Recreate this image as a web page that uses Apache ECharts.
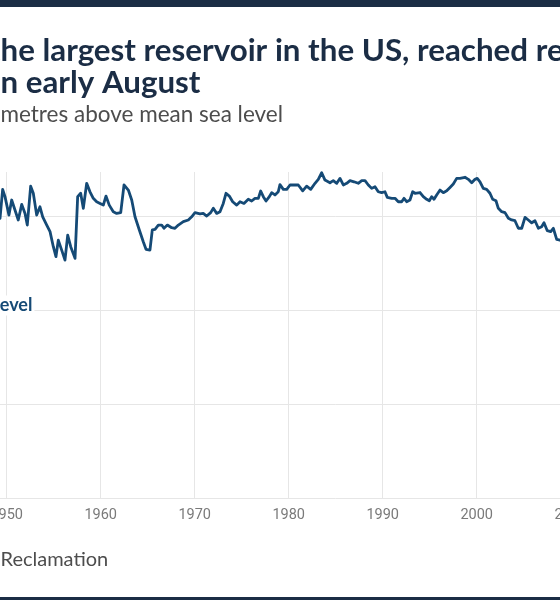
<!DOCTYPE html>
<html>
<head>
<meta charset="utf-8">
<title>Lake Mead water level</title>
<script src="https://cdn.jsdelivr.net/npm/echarts@6/dist/echarts.min.js"></script>
<style>
  html, body { margin: 0; padding: 0; width: 560px; height: 600px; overflow: hidden; background: #fff; }
  body { position: relative; }
  /* the chart is wider than the window, pushed left so only the middle shows */
  #main { position: absolute; left: -200px; top: 0; width: 980px; height: 600px; }
</style>
</head>
<body>
<div id="main"></div>
<script>
// water level of Lake Mead, metres above mean sea level (ends estimated)
var years = [
  1946.0, 1946.6, 1947.0, 1947.6, 1948.0, 1948.5, 1948.9,
  1949.29, 1949.57, 1949.82, 1950.24, 1950.53, 1950.88, 1951.23, 1951.6, 1951.95, 1952.19,
  1952.55, 1952.83, 1953.19, 1953.54, 1953.83, 1954.26, 1954.61, 1954.96, 1955.24, 1955.49,
  1955.85, 1956.2, 1956.49, 1956.81, 1957.27, 1957.55, 1957.87, 1958.15, 1958.51, 1958.86,
  1959.21, 1959.57, 1959.93, 1960.28, 1960.56, 1960.91, 1961.34, 1961.7, 1962.13, 1962.48,
  1962.94, 1963.3, 1963.65, 1964.11, 1964.53, 1964.82, 1965.24, 1965.49, 1965.78, 1966.13,
  1966.49, 1966.73, 1967.09, 1967.55, 1967.9, 1968.26, 1968.79, 1969.32, 1969.68, 1970.03,
  1970.56, 1970.91, 1971.28, 1971.7, 1971.98, 1972.34, 1972.69, 1973.04, 1973.33, 1973.68,
  1974.04, 1974.47, 1974.82, 1975.24, 1975.7, 1976.06, 1976.41, 1976.77, 1977.02, 1977.3,
  1977.59, 1977.94, 1978.19, 1978.54, 1978.89, 1979.07, 1979.43, 1979.79, 1980.14, 1980.49,
  1981.02, 1981.49, 1981.91, 1982.34, 1982.8, 1983.15, 1983.51, 1983.86, 1984.39, 1984.74,
  1985.11, 1985.46, 1985.81, 1986.17, 1986.52, 1986.95, 1987.4, 1987.77, 1988.12, 1988.47,
  1988.83, 1989.18, 1989.53, 1989.89, 1990.24, 1990.49, 1990.96, 1991.31, 1991.66, 1992.02,
  1992.27, 1992.55, 1992.9, 1993.19, 1993.44, 1993.97, 1994.32, 1994.68, 1994.96, 1995.21,
  1995.46, 1995.74, 1996.1, 1996.45, 1996.81, 1997.16, 1997.51, 1997.87, 1998.22, 1998.4,
  1998.75, 1999.11, 1999.47, 1999.82, 2000.06, 2000.35, 2000.7, 2001.06, 2001.41, 2001.7,
  2002.05, 2002.3, 2002.66, 2003.01, 2003.37, 2003.72, 2004.07, 2004.43, 2004.79, 2005.14,
  2005.49, 2005.85, 2006.2, 2006.56, 2006.91, 2007.16, 2007.51, 2007.87, 2008.15, 2008.51,
  2008.87, 2009.3, 2009.7, 2010.1, 2010.8, 2011.3, 2011.9, 2012.5, 2013.0, 2013.5,
  2014.0, 2014.6, 2015.0, 2015.5, 2016.0, 2016.5, 2017.0, 2017.3, 2018.0, 2018.5,
  2019.0, 2019.6, 2020.0, 2020.7, 2021.0, 2021.6, 2022.0, 2022.6
];
var levels = [
  350.0, 357.5, 352.0, 360.5, 354.0, 362.0, 351.5,
  348.8, 364.2, 360.3, 350.5, 358.5, 353.2, 347.9, 356.2, 351.4, 345.2,
  365.9, 362.1, 350.5, 354.9, 349.6, 345.2, 341.7, 333.7, 328.4, 337.2,
  331.9, 326.6, 339.9, 333.7, 327.5, 360.3, 362.1, 354.1, 367.4, 362.9,
  359.4, 357.6, 356.7, 355.8, 360.6, 355.8, 352.3, 351.4, 351.8, 366.5,
  363.8, 358.5, 349.6, 342.6, 336.3, 332.3, 331.9, 342.6, 342.9, 345.2,
  345.2, 343.5, 345.2, 343.8, 343.5, 345.2, 347.0, 347.9, 349.6, 351.8,
  351.1, 351.4, 350.0, 351.8, 354.1, 351.4, 352.3, 356.7, 362.1, 360.6,
  357.6, 355.8, 357.6, 356.7, 358.9, 358.0, 359.4, 359.4, 363.3, 360.3,
  358.0, 360.3, 362.4, 361.2, 362.9, 366.7, 364.2, 364.2, 366.5, 366.5,
  366.5, 363.4, 365.9, 364.2, 367.4, 369.5, 373.0, 369.1, 367.7, 368.8,
  367.4, 370.0, 366.5, 367.4, 368.8, 368.2, 367.4, 368.8, 368.8, 366.5,
  364.7, 365.6, 362.9, 362.4, 362.9, 359.9, 359.4, 359.4, 357.6, 357.6,
  359.4, 357.6, 358.5, 362.9, 362.1, 362.5, 360.3, 358.9, 358.1, 360.3,
  358.9, 361.2, 363.8, 362.4, 363.4, 365.2, 367.0, 370.0, 370.0, 369.5,
  370.6, 369.5, 367.7, 369.5, 370.0, 368.2, 364.7, 364.2, 362.1, 358.9,
  358.1, 354.1, 352.3, 351.8, 348.8, 347.9, 347.5, 343.5, 343.5, 349.3,
  347.9, 346.4, 347.5, 343.5, 344.3, 346.4, 342.2, 341.7, 343.5, 337.6,
  337.2, 335.5, 334.0, 334.5, 330.3, 333.0, 345.5, 341.0, 339.0, 334.0,
  334.5, 329.0, 331.5, 327.5, 329.5, 326.6, 330.0, 331.5, 331.0, 328.0,
  330.0, 332.5, 331.5, 327.5, 328.0, 324.5, 323.5, 317.2
];
var xTicks = [1940, 1950, 1960, 1970, 1980, 1990, 2000, 2010, 2020, 2030];
var yTicks = [200, 250, 300, 350];
var yMax = 373.4;

var titleLines = [
  'Lake Mead, the largest reservoir in the US, reached record',
  'low levels in early August'
];
var subtitle = 'Water level, metres above mean sea level';
var source = 'Source: US Bureau of Reclamation';
var seriesName = 'Water level';

var SHIFT = 200;           // how far the chart div sits left of the window
var lineColor = '#154a76';
var navy = '#1b2d45';
var titleFont = 'bold 31.3px Lato';
var subFont = '22.5px Lato';
var srcFont = '20px Lato';

var ctx = document.createElement('canvas').getContext('2d');
function textWidth(str, font) {
  ctx.font = font;
  return ctx.measureText(str).width;
}
// left x so that the text starting at `cut` lands at the window's left edge
function leftFor(str, cut, font) {
  return SHIFT + 0.5 - textWidth(str.slice(0, str.indexOf(cut)), font);
}

var myChart = echarts.init(document.getElementById('main'), null, { renderer: 'canvas' });

var option = {
  animation: false,
  backgroundColor: '#fff',
  grid: {
    left: 112.7,
    right: 21.3,
    top: 172,
    bottom: 101.7,
    containLabel: false,
    outerBoundsMode: 'none'
  },
  xAxis: {
    type: 'value',
    min: xTicks[0],
    max: xTicks[xTicks.length - 1],
    interval: 10,
    axisLine: { show: false },
    axisTick: { show: false },
    axisLabel: {
      margin: 10,
      color: '#7a7a7a',
      fontFamily: 'Roboto',
      fontSize: 14.5,
      formatter: function (v) { return String(v); }
    },
    splitLine: { show: true, lineStyle: { color: '#e6e6e6', width: 1 } }
  },
  yAxis: {
    type: 'value',
    min: yTicks[0],
    max: yMax,
    interval: yTicks[1] - yTicks[0],
    axisLine: { show: false },
    axisTick: { show: false },
    axisLabel: {
      color: '#777', fontFamily: 'Roboto', fontSize: 14, showMaxLabel: false,
      formatter: function (v) { return String(v); }
    },
    splitLine: { show: true, showMaxLine: false, lineStyle: { color: '#e6e6e6', width: 1 } }
  },
  series: [{
    name: seriesName,
    type: 'line',
    data: years.map(function (y, i) { return [y, levels[i]]; }),
    showSymbol: false,
    symbol: 'none',
    silent: true,
    lineStyle: { color: lineColor, width: 2.8, join: 'round' },
    itemStyle: { color: lineColor }
  }]
};
myChart.setOption(option);

// label of the series, anchored in data space
var lab = myChart.convertToPixel({ gridIndex: 0 }, [1952.95, 302.4]);

myChart.setOption({
  graphic: [
    { type: 'rect', shape: { x: 0, y: 0, width: 980, height: 7 }, style: { fill: navy }, silent: true },
    { type: 'rect', shape: { x: 0, y: 597, width: 980, height: 3 }, style: { fill: navy }, silent: true },
    {
      type: 'text', silent: true,
      style: { text: titleLines[0], x: leftFor(titleLines[0], 'he largest', titleFont), y: 51,
        font: titleFont, fill: navy, verticalAlign: 'middle' }
    },
    {
      type: 'text', silent: true,
      style: { text: titleLines[1], x: leftFor(titleLines[1], 'n early', titleFont), y: 83,
        font: titleFont, fill: navy, verticalAlign: 'middle' }
    },
    {
      type: 'text', silent: true,
      style: { text: subtitle, x: leftFor(subtitle, 'metres', subFont), y: 115,
        font: subFont, fill: '#4d4d4d', verticalAlign: 'middle' }
    },
    {
      type: 'text', silent: true,
      style: { text: source, x: leftFor(source, 'Reclamation', srcFont), y: 560,
        font: srcFont, fill: '#4d4d4d', verticalAlign: 'middle' }
    },
    {
      type: 'text', silent: true, z: 10,
      style: { text: seriesName, x: lab[0], y: lab[1], font: 'bold 18px Lato', fill: lineColor,
        align: 'right', verticalAlign: 'middle', backgroundColor: '#fff', padding: [1, 2] }
    }
  ]
});
</script>
</body>
</html>
